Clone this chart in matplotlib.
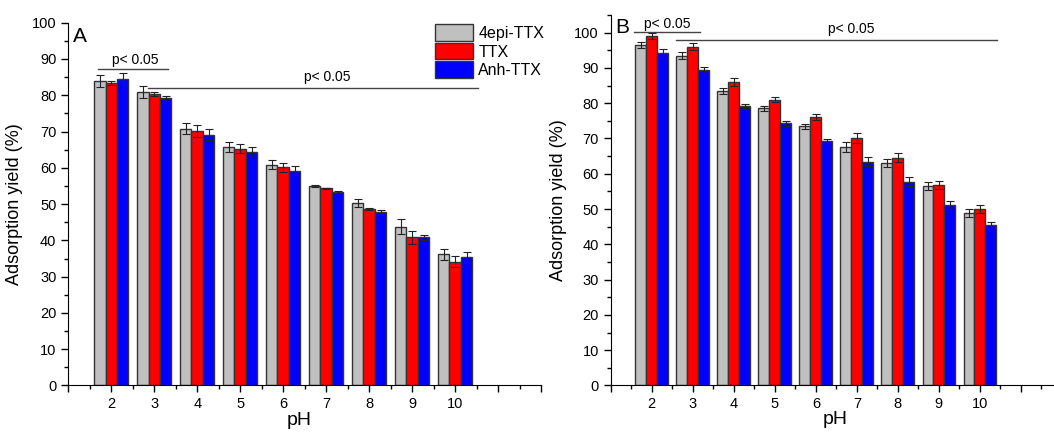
import matplotlib
matplotlib.use("Agg")
import matplotlib.pyplot as plt
from matplotlib.ticker import MultipleLocator
import numpy as np

plt.rcParams['font.family'] = ['Liberation Sans', 'DejaVu Sans']

ph = [2, 3, 4, 5, 6, 7, 8, 9, 10]
series = ["4epi-TTX", "TTX", "Anh-TTX"]
colors = ["#c0c0c0", "#ff0000", "#0000ff"]

# Panel A
a_epi = [84.0, 80.9, 70.8, 65.8, 60.9, 55.0, 50.4, 43.8, 36.2]
a_epi_err = [1.7, 1.6, 1.5, 1.4, 1.2, 0.3, 1.1, 2.0, 1.5]
a_ttx = [83.3, 80.3, 70.1, 65.3, 60.1, 54.3, 48.6, 40.8, 34.1]
a_ttx_err = [0.6, 0.6, 1.6, 1.3, 1.3, 0.2, 0.2, 1.8, 1.5]
a_anh = [84.4, 79.2, 69.1, 64.3, 59.2, 53.3, 47.7, 40.9, 35.3]
a_anh_err = [1.6, 0.7, 1.5, 1.3, 1.3, 0.2, 0.7, 0.7, 1.6]

# Panel B
b_epi = [96.5, 93.5, 83.4, 78.5, 73.4, 67.6, 63.0, 56.5, 48.9]
b_epi_err = [0.9, 1.0, 0.9, 0.7, 0.8, 1.3, 1.2, 1.1, 1.1]
b_ttx = [99.1, 96.0, 86.0, 81.0, 76.0, 70.1, 64.5, 56.8, 50.1]
b_ttx_err = [0.8, 1.0, 1.0, 0.8, 0.9, 1.4, 1.3, 1.2, 1.1]
b_anh = [94.3, 89.5, 79.3, 74.3, 69.3, 63.4, 57.8, 51.2, 45.4]
b_anh_err = [1.1, 0.8, 0.6, 0.7, 0.6, 1.3, 1.2, 1.1, 1.0]

fig = plt.figure(figsize=(10.54, 4.33), dpi=100)
axA = fig.add_axes([0.0648, 0.1097, 0.4485, 0.838])
axB = fig.add_axes([0.5794, 0.1097, 0.4282, 0.8557])

bw = 0.8 / 3
x = np.array(ph, dtype=float)


def draw(ax, vals, errs, ylim):
    for i, (v, e) in enumerate(zip(vals, errs)):
        ax.bar(x + (i - 1) * bw, v, bw, color=colors[i], edgecolor="#333333",
               linewidth=1.0, label=series[i], zorder=2)
        ax.errorbar(x + (i - 1) * bw, v, yerr=e, fmt="none", ecolor="#222222",
                    elinewidth=0.8, capsize=3, capthick=0.8, zorder=3)
    ax.set_xlim(1, 12)
    ax.set_ylim(*ylim)
    ax.spines['top'].set_visible(False)
    ax.spines['right'].set_visible(False)
    ax.set_xticks(range(1, 13))
    ax.set_xticklabels([str(t) if 2 <= t <= 10 else "" for t in range(1, 13)])
    ax.xaxis.set_minor_locator(MultipleLocator(0.5))
    ax.set_yticks(range(0, 101, 10))
    ax.yaxis.set_minor_locator(MultipleLocator(5))
    ax.tick_params(which='major', direction='out', length=5, width=1, labelsize=10.5)
    ax.tick_params(which='minor', direction='out', length=3, width=1)
    ax.set_ylabel("Adsorption yield (%)", fontsize=13)
    ax.set_xlabel("pH", fontsize=14)
    ax.yaxis.set_label_coords(-0.096, 0.5)


draw(axA, [a_epi, a_ttx, a_anh], [a_epi_err, a_ttx_err, a_anh_err], (0, 100))
draw(axB, [b_epi, b_ttx, b_anh], [b_epi_err, b_ttx_err, b_anh_err], (0, 105))
axA.xaxis.set_label_coords(0.489, -0.072)
axB.xaxis.set_label_coords(0.497, -0.070)

axA.text(0.01, 0.988, "A", transform=axA.transAxes, fontsize=15, va="top", ha="left")
axB.text(0.01, 0.992, "B", transform=axB.transAxes, fontsize=15, va="top", ha="left")

lc = "#444444"
# significance A
axA.plot([1.68, 3.33], [87.2, 87.2], color=lc, lw=1)
axA.text(2.55, 87.7, "p< 0.05", fontsize=10, ha="center", va="bottom")
axA.plot([2.86, 10.54], [81.9, 81.9], color=lc, lw=1)
axA.text(7.02, 83.0, "p< 0.05", fontsize=10, ha="center", va="bottom")
# significance B
axB.plot([1.57, 3.17], [100.2, 100.2], color=lc, lw=1)
axB.text(2.38, 100.5, "p< 0.05", fontsize=10, ha="center", va="bottom")
axB.plot([2.6, 10.42], [97.8, 97.8], color=lc, lw=1)
axB.text(6.87, 99.0, "p< 0.05", fontsize=10, ha="center", va="bottom")

handles, labels = axA.get_legend_handles_labels()
axA.legend(handles, labels, loc="upper left", bbox_to_anchor=(0.776, 0.995),
           frameon=False, fontsize=11.5, handlelength=2.4, handleheight=1.2,
           labelspacing=0.12, handletextpad=0.3, borderpad=0, borderaxespad=0)

fig.savefig("out.png", dpi=100)
